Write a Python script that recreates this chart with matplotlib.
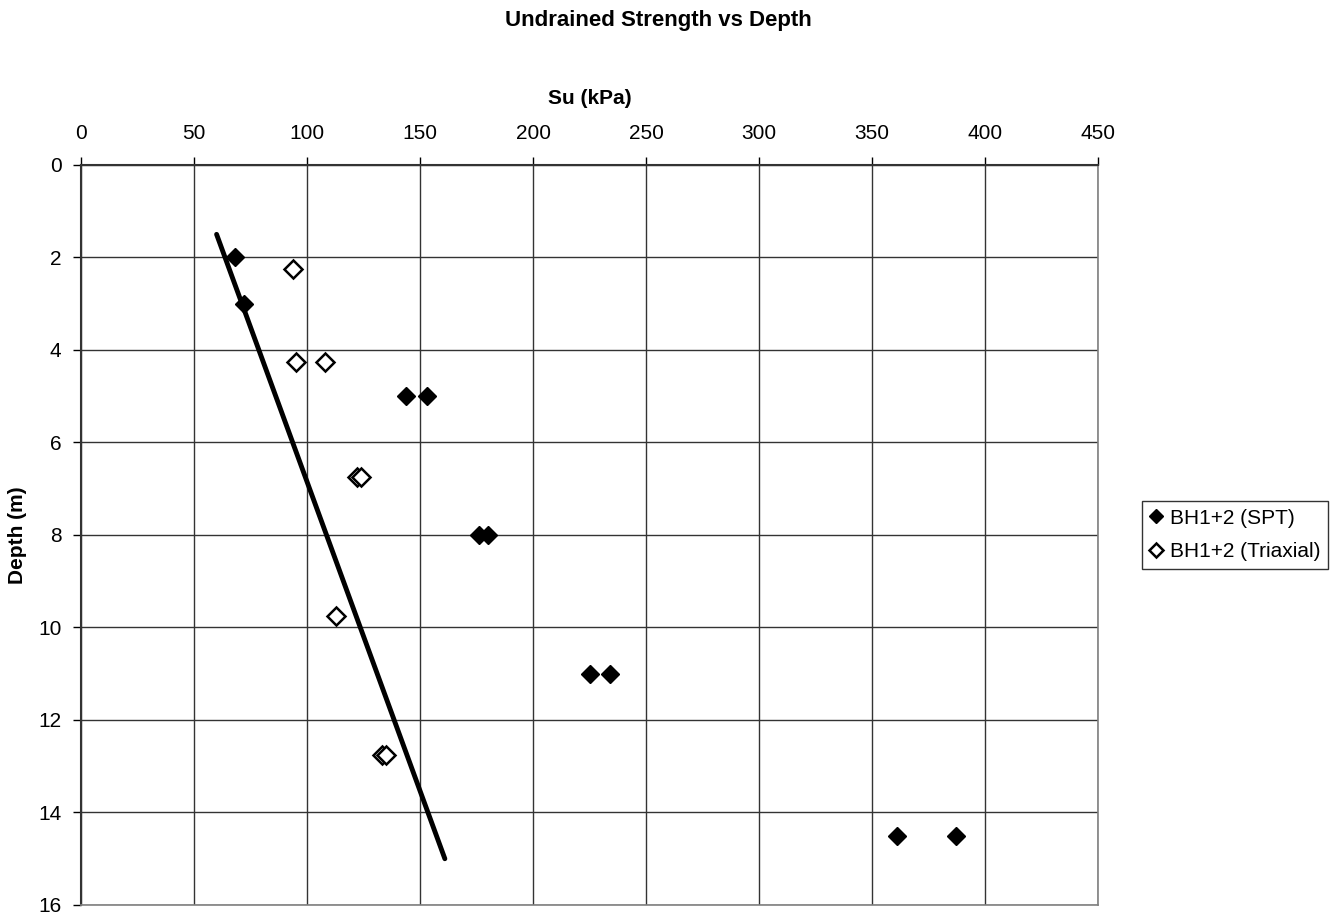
import matplotlib
matplotlib.use("Agg")
import matplotlib.pyplot as plt

plt.rcParams['font.family'] = ['Liberation Sans', 'DejaVu Sans']

# SPT derived undrained strength
spt_su = [68, 72, 144, 153, 176, 180, 225, 234, 361, 387]
spt_depth = [2, 3, 5, 5, 8, 8, 11, 11, 14.5, 14.5]

# Triaxial test results
tri_su = [94, 95, 108, 122, 124, 113, 133, 135]
tri_depth = [2.25, 4.25, 4.25, 6.75, 6.75, 9.75, 12.75, 12.75]

# design line
line_su = [60, 161]
line_depth = [1.5, 15]

fig = plt.figure(figsize=(13.43, 9.17), dpi=100)
ax = fig.add_axes([0.0603, 0.0131, 0.7573, 0.807])

ax.plot(line_su, line_depth, color='black', linewidth=3.5, solid_capstyle='round', zorder=3)
ax.plot(spt_su, spt_depth, linestyle='none', marker='D', markersize=9,
        color='black', label='BH1+2 (SPT)', zorder=4)
ax.plot(tri_su, tri_depth, linestyle='none', marker='D', markersize=9,
        markerfacecolor='white', markeredgecolor='black', markeredgewidth=1.8,
        label='BH1+2 (Triaxial)', zorder=4)

ax.set_xlim(0, 450)
ax.set_ylim(16, 0)
ax.set_xticks(range(0, 451, 50))
ax.set_yticks(range(0, 17, 2))
ax.xaxis.tick_top()
ax.xaxis.set_label_position('top')
ax.tick_params(axis='both', labelsize=15, direction='out', length=6, width=1, pad=8)
ax.tick_params(axis='x', pad=10)
ax.grid(True, color='#333333', linewidth=1)
ax.set_axisbelow(True)

for side in ['left', 'top']:
    ax.spines[side].set_linewidth(1.5)
    ax.spines[side].set_color('#333333')
for side in ['right', 'bottom']:
    ax.spines[side].set_linewidth(1.2)
    ax.spines[side].set_color('#808080')

ax.set_xlabel('Su (kPa)', fontsize=15, fontweight='bold', labelpad=14)
ax.set_ylabel('Depth (m)', fontsize=15, fontweight='bold', labelpad=8)

fig.text(0.49, 0.978, 'Undrained Strength vs Depth', ha='center', va='center',
         fontsize=16, fontweight='bold')

leg = ax.legend(loc='center left', bbox_to_anchor=(1.033, 0.5), fontsize=15,
                frameon=True, fancybox=False, edgecolor='black', handlelength=0.6,
                handletextpad=0.4, borderpad=0.35, labelspacing=0.7, markerscale=0.8)
leg.get_frame().set_linewidth(1)

fig.savefig('out.png', dpi=100)
